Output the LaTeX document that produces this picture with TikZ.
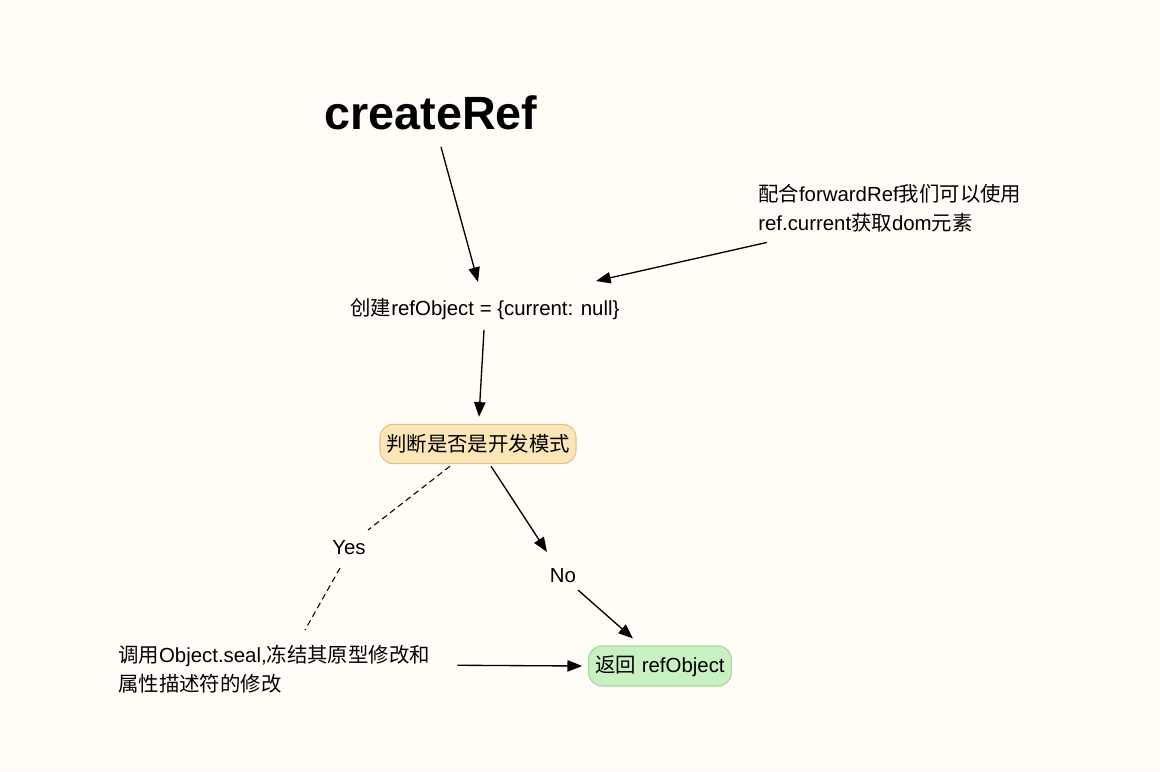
\documentclass[tikz,border=0pt]{standalone}
\usepackage{fontspec}
\setmainfont{Liberation Sans}
\newfontfamily\cjk{Noto Sans CJK SC}
\usetikzlibrary{arrows.meta,calc}
\definecolor{bg}{HTML}{FFFDF6}
\definecolor{decfill}{HTML}{FCE6B8}
\definecolor{decdraw}{HTML}{DEC48E}
\definecolor{retfill}{HTML}{C8F0C2}
\definecolor{retdraw}{HTML}{A5D69C}
\tikzset{
  txt/.style={inner sep=0pt,font=\fontsize{15.3}{21.75}\selectfont},
  box/.style={txt,rounded corners=10pt,line width=0.8pt,minimum height=29.5pt},
  lbl/.style={txt},
  arr/.style={-{Triangle[length=11pt,width=8.5pt]},line width=1pt},
  dsh/.style={dash pattern=on 4.5pt off 3pt,line width=0.8pt}
}
\begin{document}
\begin{tikzpicture}[x=0.75pt,y=-0.75pt]
\fill[bg] (0,0) rectangle (1160,771);
\useasboundingbox (0,0) rectangle (1160,771);

\node[inner sep=0pt,font=\fontsize{35}{40}\selectfont\bfseries,anchor=base] (title) at (431,129) {createRef};
\node[txt,align=left,anchor=north west] (note) at (758,184) {{\cjk 配合}forwardRef{\cjk 我们可以使用}\\ref.current{\cjk 获取}dom{\cjk 元素}};
\node[txt,anchor=base] (refobj) at (485,315) {{\cjk 创建}refObject = \{current: null\}};
\node[box,fill=decfill,draw=decdraw,minimum width=147pt] (dec) at (478,444) {{\cjk 判断是否是开发模式}};
\node[lbl] (yes) at (349,548) {Yes};
\node[lbl] (no) at (563,576) {No};
\node[txt,align=left,anchor=north west] (seal) at (118,645) {{\cjk 调用}Object.seal,{\cjk 冻结其原型修改和}\\{\cjk 属性描述符的修改}};
\node[box,fill=retfill,draw=retdraw,minimum width=107pt,minimum height=30pt] (ret) at (660,666) {{\cjk 返回} refObject};

\draw[arr] ($(title.base)+(10,18)$) -- ($(refobj.base)+(-7,-33)$);
\draw[arr] ($(note.south west)+(9,10)$) -- ($(refobj.base)+(111,-34)$);
\draw[arr] ($(refobj.base)+(-1,15)$) -- ($(dec.north)+(1,-7)$);
\draw[arr] ($(dec.south)+(13,2)$) -- ($(no.center)+(-16,-24)$);
\draw[arr] ($(no.center)+(15,14)$) -- ($(ret.north)+(-27,-7)$);
\draw[dsh] ($(dec.south)+(-28,2)$) -- ($(yes.center)+(19,-18)$);
\draw[dsh] ($(yes.center)+(-9,20)$) -- ($(seal.north west)+(187,-15)$);
\draw[arr] ($(seal.east)+(27,-4)$) -- ($(ret.west)+(-6,0)$);
\end{tikzpicture}
\end{document}
